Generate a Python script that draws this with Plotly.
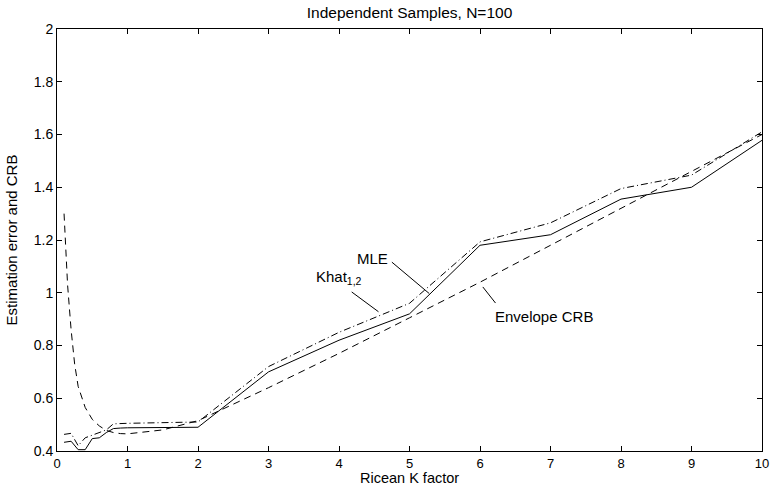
import plotly.graph_objects as go

# Ricean K factor sample points
k_est = [0.1, 0.2, 0.3, 0.4, 0.5, 0.6, 0.7, 0.8, 0.9, 1.0, 2, 3, 4, 5, 6, 7, 8, 9, 10]
mle = [0.433, 0.437, 0.405, 0.405, 0.447, 0.45, 0.47, 0.485, 0.487, 0.488,
       0.49, 0.70, 0.82, 0.92, 1.18, 1.22, 1.355, 1.40, 1.578]
khat12 = [0.463, 0.467, 0.42, 0.45, 0.46, 0.47, 0.48, 0.503, 0.505, 0.505,
          0.51, 0.72, 0.85, 0.96, 1.193, 1.265, 1.395, 1.446, 1.61]

k_crb = [0.1, 0.15, 0.2, 0.25, 0.3, 0.4, 0.5, 0.6, 0.7, 0.8, 0.9, 1.0, 1.5, 2,
         3, 4, 5, 6, 7, 8, 9, 10]
crb = [1.30, 1.03, 0.86, 0.73, 0.645, 0.565, 0.52, 0.495, 0.478, 0.47, 0.466, 0.465, 0.48, 0.515,
       0.64, 0.77, 0.905, 1.04, 1.18, 1.32, 1.46, 1.60]

x_ticks = list(range(0, 11))
y_ticks = [0.4, 0.6, 0.8, 1.0, 1.2, 1.4, 1.6, 1.8, 2.0]
y_tick_text = ["0.4", "0.6", "0.8", "1", "1.2", "1.4", "1.6", "1.8", "2"]

FONT = "Liberation Sans, Arial, Helvetica, sans-serif"

fig = go.Figure()
fig.add_trace(go.Scatter(x=k_crb, y=crb, mode="lines",
                         line=dict(color="black", width=1, dash="7px,5px"),
                         name="Envelope CRB", showlegend=False))
fig.add_trace(go.Scatter(x=k_est, y=khat12, mode="lines",
                         line=dict(color="black", width=1, dash="7px,3px,1px,3px"),
                         name="Khat", showlegend=False))
fig.add_trace(go.Scatter(x=k_est, y=mle, mode="lines",
                         line=dict(color="black", width=1),
                         name="MLE", showlegend=False))

# annotation leader lines
leaders = [
    ((4.75, 1.116), (5.28, 0.997)),   # MLE
    ((4.18, 1.003), (4.56, 0.928)),   # Khat
    ((6.04, 1.022), (6.22, 0.961)),   # Envelope CRB
]
for (x0, y0), (x1, y1) in leaders:
    fig.add_shape(type="line", x0=x0, y0=y0, x1=x1, y1=y1, xref="x", yref="y",
                  line=dict(color="black", width=1))

fig.add_annotation(x=4.47, y=1.131, text="MLE", showarrow=False,
                   font=dict(family=FONT, size=15, color="black"))
fig.add_annotation(x=4.0, y=1.059, text="Khat<sub>1,2</sub>", showarrow=False,
                   font=dict(family=FONT, size=15, color="black"))
fig.add_annotation(x=6.91, y=0.911, text="Envelope CRB", showarrow=False,
                   font=dict(family=FONT, size=15, color="black"))

# x-axis title drawn as a paper-anchored annotation below tick labels
fig.add_annotation(x=0.5, y=0, xref="paper", yref="paper", xanchor="center",
                   yanchor="top", yshift=-18, text="Ricean K factor", showarrow=False,
                   borderpad=0, font=dict(family=FONT, size=14.5, color="black"))

fig.update_layout(
    width=772, height=485,
    margin=dict(l=57, r=10, t=29, b=34),
    paper_bgcolor="white", plot_bgcolor="white",
    font=dict(family=FONT, size=14, color="black"),
    title=dict(text="Independent Samples, N=100", x=0.5, xref="paper", xanchor="center",
               y=1 - 13 / 485, yanchor="middle",
               font=dict(family=FONT, size=15.5, color="black")),
    xaxis=dict(range=[0, 10], tickvals=x_ticks, ticks="inside", ticklen=5,
               tickcolor="black", showline=True, linecolor="black", linewidth=1,
               mirror="ticks", showgrid=False, zeroline=False, automargin=False,
               tickfont=dict(family=FONT, size=13)),
    yaxis=dict(range=[0.4, 2.0], tickvals=y_ticks, ticktext=y_tick_text,
               ticks="inside", ticklen=5, tickcolor="black",
               showline=True, linecolor="black", linewidth=1, mirror="ticks",
               showgrid=False, zeroline=False, automargin=False,
               tickfont=dict(family=FONT, size=14),
               title=dict(text="Estimation error and CRB", standoff=12,
                          font=dict(family=FONT, size=15))),
)

fig.write_html("out.html")
